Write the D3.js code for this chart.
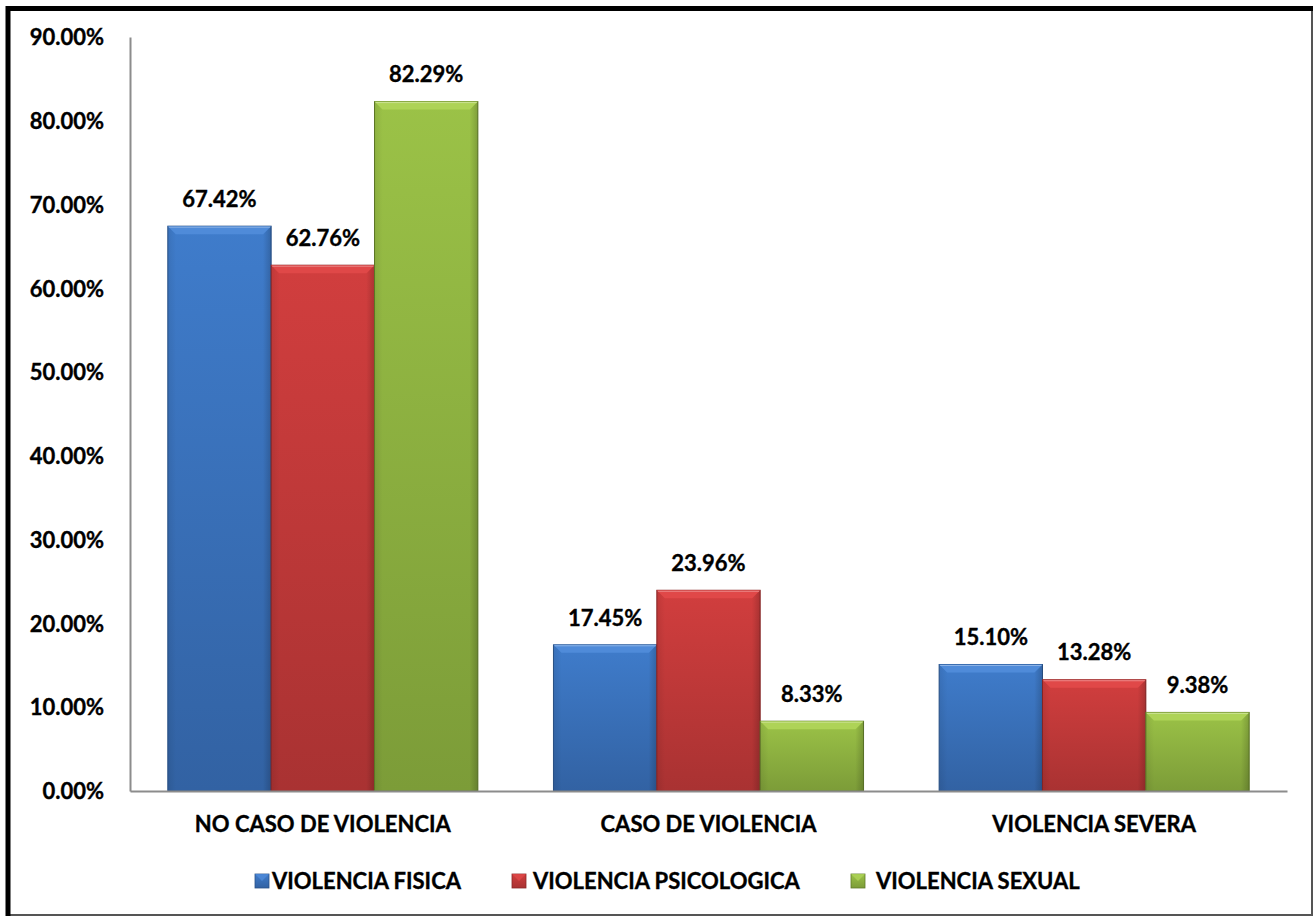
<!DOCTYPE html>
<html>
<head>
<meta charset="utf-8">
<script src="https://cdn.jsdelivr.net/npm/d3@7"></script>
<style>
  body { margin: 0; background: #fff; }
  text { font-family: Lato, "Open Sans", sans-serif; font-weight: bold; fill: #000; stroke: #000; stroke-width: 0.35px; }
</style>
</head>
<body>
<div id="chart"></div>
<script>
const categories = ["NO CASO DE VIOLENCIA", "CASO DE VIOLENCIA", "VIOLENCIA SEVERA"];
const seriesNames = ["VIOLENCIA FISICA", "VIOLENCIA PSICOLOGICA", "VIOLENCIA SEXUAL"];
const fisica = [67.42, 17.45, 15.10];
const psicologica = [62.76, 23.96, 13.28];
const sexual = [82.29, 8.33, 9.38];
const yTicks = [0, 10, 20, 30, 40, 50, 60, 70, 80, 90];

const seriesValues = [fisica, psicologica, sexual];
const colors = [
  { top: "#4f8bd9", mid: "#3f7ccb", bot: "#3262a3", edge: "#2a5288" },
  { top: "#e04848", mid: "#d13e3e", bot: "#a93232", edge: "#8a2626" },
  { top: "#aed357", mid: "#9bc247", bot: "#7c9c38", edge: "#5f7a28" }
];

const width = 1315, height = 920;
const margin = { top: 37, right: 28, bottom: 129, left: 130 };
const innerWidth = width - margin.left - margin.right;
const innerHeight = height - margin.top - margin.bottom;

const svg = d3.select("#chart").append("svg")
  .attr("width", width).attr("height", height);

// frame
svg.append("rect").attr("x", 8).attr("y", 8).attr("width", 1304).attr("height", 907)
  .attr("fill", "none").attr("stroke", "#555").attr("stroke-width", 2);
svg.append("path").attr("d", "M8,916 V8.5 H1313")
  .attr("fill", "none").attr("stroke", "#000").attr("stroke-width", 5);

const defs = svg.append("defs");
colors.forEach((c, i) => {
  const g = defs.append("linearGradient").attr("id", "grad" + i)
    .attr("x1", 0).attr("y1", 0).attr("x2", 0).attr("y2", 1);
  g.append("stop").attr("offset", "0%").attr("stop-color", c.mid);
  g.append("stop").attr("offset", "100%").attr("stop-color", c.bot);
  const h = defs.append("linearGradient").attr("id", "side" + i)
    .attr("x1", 0).attr("y1", 0).attr("x2", 1).attr("y2", 0);
  h.append("stop").attr("offset", "0%").attr("stop-color", "#000").attr("stop-opacity", 0.08);
  h.append("stop").attr("offset", "8%").attr("stop-color", "#000").attr("stop-opacity", 0);
  h.append("stop").attr("offset", "92%").attr("stop-color", "#000").attr("stop-opacity", 0);
  h.append("stop").attr("offset", "100%").attr("stop-color", "#000").attr("stop-opacity", 0.18);
});

const chart = svg.append("g").attr("transform", `translate(${margin.left},${margin.top})`);

const x0 = d3.scaleBand().domain(categories).range([0, innerWidth])
  .paddingInner(0.196).paddingOuter(0.098);
const x1 = d3.scaleBand().domain(seriesNames).range([0, x0.bandwidth()]);
const y = d3.scaleLinear().domain([0, 90]).range([innerHeight, 0]);

// y axis
const yAxis = d3.axisLeft(y).tickValues(yTicks).tickSize(0).tickPadding(26)
  .tickFormat(d => d3.format(".2f")(d) + "%");
const yg = chart.append("g").call(yAxis);
yg.select(".domain").attr("stroke", "#8c8c8c").attr("stroke-width", 2);
yg.selectAll("text").style("font-size", "22px").attr("dy", "0.35em");

// bars
const groups = chart.selectAll(".cat").data(categories).enter().append("g")
  .attr("transform", d => `translate(${x0(d)},0)`);

groups.each(function (cat, ci) {
  const g = d3.select(this);
  seriesNames.forEach((s, si) => {
    const v = seriesValues[si][ci];
    const bx = x1(s), bw = x1.bandwidth(), by = y(v), bh = innerHeight - y(v);
    const c = colors[si];
    g.append("rect").attr("x", bx).attr("y", by).attr("width", bw).attr("height", bh)
      .attr("fill", `url(#grad${si})`).attr("stroke", c.edge).attr("stroke-width", 1);
    g.append("rect").attr("x", bx).attr("y", by).attr("width", bw).attr("height", bh)
      .attr("fill", `url(#side${si})`);
    // bevel top
    const bev = Math.min(8, bh / 2);
    g.append("path")
      .attr("d", `M${bx},${by} H${bx + bw} L${bx + bw - bev},${by + bev} H${bx + bev} Z`)
      .attr("fill", c.top).attr("stroke", "none");
    g.append("line").attr("x1", bx + 1).attr("x2", bx + bw - 1).attr("y1", by + 1).attr("y2", by + 1)
      .attr("stroke", "#fff").attr("stroke-opacity", 0.35);
    g.append("text").attr("x", bx + bw / 2).attr("y", by - 27)
      .attr("text-anchor", "middle").attr("dy", "0.35em")
      .style("font-size", "22px").text(d3.format(".2f")(v) + "%");
  });
});

// x axis
const xAxis = d3.axisBottom(x0).tickSize(0).tickPadding(25);
const xg = chart.append("g").attr("transform", `translate(0,${innerHeight})`).call(xAxis);
xg.select(".domain").attr("stroke", "#8c8c8c").attr("stroke-width", 2);
xg.selectAll("text").style("font-size", "22px");

// legend
const legendX = [255, 512, 851];
const legendTextX = [272, 533, 876];
const legend = svg.append("g").attr("transform", "translate(0,881)");
seriesNames.forEach((s, i) => {
  const c = colors[i];
  legend.append("rect").attr("x", legendX[i]).attr("y", -7).attr("width", 14).attr("height", 14)
    .attr("fill", `url(#grad${i})`).attr("stroke", c.edge).attr("stroke-width", 0.8);
  legend.append("path")
    .attr("d", `M${legendX[i]},-7 h14 l-7,7 Z`).attr("fill", c.top).attr("opacity", 0.8);
  legend.append("text").attr("x", legendTextX[i]).attr("y", 0).attr("dy", "0.35em")
    .style("font-size", "22px").text(s);
});
</script>
</body>
</html>
